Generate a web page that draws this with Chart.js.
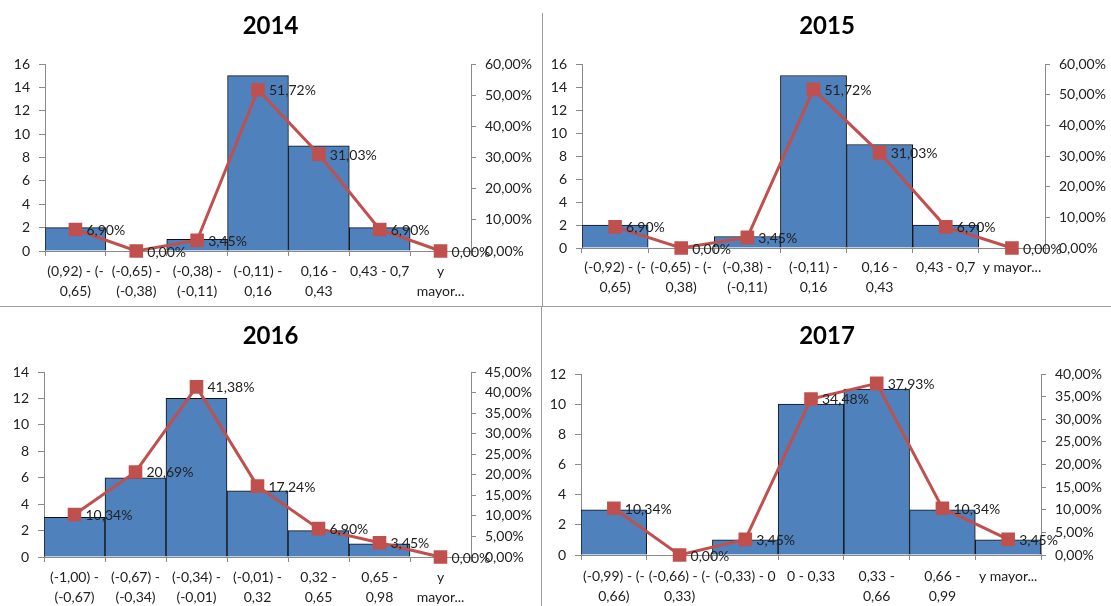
<!DOCTYPE html>
<html>
<head>
<meta charset="utf-8">
<title>Histogramas 2014-2017</title>
<script src="https://cdn.jsdelivr.net/npm/chart.js@4.4.1/dist/chart.umd.min.js"></script>
<style>
    html, body { margin: 0; padding: 0; background: #fff; }
    #wrap { position: relative; width: 1111px; height: 606px; overflow: hidden; }
    .panel { position: absolute; }
    .sep { position: absolute; background: #9c9c9c; }
</style>
</head>
<body>
<div id="wrap">
    <div class="panel" style="left:0;top:0"><canvas id="c2014" width="541" height="305"></canvas></div>
    <div class="panel" style="left:543px;top:0"><canvas id="c2015" width="568" height="305"></canvas></div>
    <div class="panel" style="left:0;top:307px"><canvas id="c2016" width="541" height="299"></canvas></div>
    <div class="panel" style="left:543px;top:307px"><canvas id="c2017" width="568" height="299"></canvas></div>

    <div class="sep" style="left:542px;top:13px;width:1px;height:293px"></div>
    <div class="sep" style="left:541px;top:306px;width:1px;height:300px"></div>
    <div class="sep" style="left:0;top:306px;width:1111px;height:1px"></div>
</div>

<script>
// ---------- data ----------
const bins2014 = [["(0,92) - (-", "0,65)"], ["(-0,65) -", "(-0,38)"], ["(-0,38) -", "(-0,11)"], ["(-0,11) -", "0,16"], ["0,16 -", "0,43"], "0,43 - 0,7", ["y", "mayor..."]];
const counts2014 = [2, 0, 1, 15, 9, 2, 0];
const pct2014 = [6.90, 0.00, 3.45, 51.72, 31.03, 6.90, 0.00];

const bins2015 = [["(-0,92) - (-", "0,65)"], ["(-0,65) - (-", "0,38)"], ["(-0,38) -", "(-0,11)"], ["(-0,11) -", "0,16"], ["0,16 -", "0,43"], "0,43 - 0,7", "y mayor..."];
const counts2015 = [2, 0, 1, 15, 9, 2, 0];
const pct2015 = [6.90, 0.00, 3.45, 51.72, 31.03, 6.90, 0.00];

const bins2016 = [["(-1,00) -", "(-0,67)"], ["(-0,67) -", "(-0,34)"], ["(-0,34) -", "(-0,01)"], ["(-0,01) -", "0,32"], ["0,32 -", "0,65"], ["0,65 -", "0,98"], ["y", "mayor..."]];
const counts2016 = [3, 6, 12, 5, 2, 1, 0];
const pct2016 = [10.34, 20.69, 41.38, 17.24, 6.90, 3.45, 0.00];

const bins2017 = [["(-0,99) - (-", "0,66)"], ["(-0,66) - (-", "0,33)"], "(-0,33) - 0", "0 - 0,33", ["0,33 -", "0,66"], ["0,66 -", "0,99"], "y mayor..."];
const counts2017 = [3, 0, 1, 10, 11, 3, 1];
const pct2017 = [10.34, 0.00, 3.45, 34.48, 37.93, 10.34, 3.45];

// axis ranges: [countMax, countStep, pctMax, pctStep]
const axes2014 = [16, 2, 60, 10];
const axes2015 = [16, 2, 60, 10];
const axes2016 = [14, 2, 45, 5];
const axes2017 = [12, 2, 40, 5];

const FONT = "Lato, 'Liberation Sans', sans-serif";
const AXIS_GREY = "#8a8a8a";
const TEXT = "#222";

const fmtPct = v => v.toFixed(2).replace(".", ",") + "%";

// percentage labels to the right of each marker
const pointLabels = {
    id: "pointLabels",
    afterDatasetsDraw(chart) {
        const meta = chart.getDatasetMeta(1);
        const ctx = chart.ctx;
        ctx.save();
        ctx.font = "14px " + FONT;
        ctx.fillStyle = TEXT;
        ctx.textAlign = "left";
        ctx.textBaseline = "middle";
        meta.data.forEach((pt, i) => {
            ctx.fillText(fmtPct(chart.data.datasets[1].data[i]), pt.x + 11, pt.y + 1);
        });
        ctx.restore();
    }
};

function makeChart(id, year, labels, counts, pct, axes, box) {
    const [cMax, cStep, pMax, pStep] = axes;
    return new Chart(document.getElementById(id), {
        type: "bar",
        data: {
            labels: labels,
            datasets: [{
                type: "bar",
                data: counts,
                backgroundColor: "#4F81BD",
                borderColor: "#111",
                borderWidth: 1,
                barPercentage: 1,
                categoryPercentage: 1,
                yAxisID: "y",
                order: 1
            }, {
                type: "line",
                data: pct,
                borderColor: "#C0504D",
                borderWidth: 3,
                pointStyle: "rect",
                pointRadius: 7.5,
                pointBackgroundColor: "#C0504D",
                pointBorderColor: "#C0504D",
                tension: 0,
                clip: false,
                yAxisID: "y1",
                order: 0
            }]
        },
        options: {
            responsive: false,
            animation: false,
            layout: { padding: 0 },
            plugins: {
                legend: { display: false },
                tooltip: { enabled: false },
                title: {
                    display: true,
                    text: year,
                    color: "#000",
                    font: { family: FONT, size: 24, weight: "bold" },
                    padding: { top: box.tTop, bottom: box.tBottom }
                }
            },
            scales: {
                x: {
                    grid: { offset: true, drawOnChartArea: false, tickLength: 5, color: AXIS_GREY },
                    border: { color: AXIS_GREY },
                    ticks: {
                        autoSkip: false, maxRotation: 0, minRotation: 0,
                        padding: box.xPad, color: TEXT,
                        font: { family: FONT, size: 14, lineHeight: 1.4 }
                    },
                    afterFit: s => { s.height = box.xH; }
                },
                y: {
                    position: "left",
                    min: 0, max: cMax,
                    grid: { drawOnChartArea: false, tickLength: 6, color: AXIS_GREY },
                    border: { color: AXIS_GREY },
                    ticks: { stepSize: cStep, padding: 9, color: TEXT, font: { family: FONT, size: 14 } },
                    afterFit: s => { s.width = box.left; }
                },
                y1: {
                    position: "right",
                    min: 0, max: pMax,
                    grid: { drawOnChartArea: false, tickLength: 5, color: AXIS_GREY },
                    border: { color: AXIS_GREY },
                    ticks: {
                        stepSize: pStep, padding: 9, color: TEXT,
                        font: { family: FONT, size: 14 },
                        callback: v => fmtPct(v)
                    },
                    afterFit: s => { s.width = box.right; }
                }
            }
        },
        plugins: [pointLabels]
    });
}

makeChart("c2014", "2014", bins2014, counts2014, pct2014, axes2014,
    { left: 45, right: 70, xH: 54, xPad: 6, tTop: 11.6, tBottom: 23.6 });
makeChart("c2015", "2015", bins2015, counts2015, pct2015, axes2015,
    { left: 39, right: 66, xH: 57, xPad: 5, tTop: 11.6, tBottom: 23.6 });
makeChart("c2016", "2016", bins2016, counts2016, pct2016, axes2016,
    { left: 44, right: 70, xH: 49, xPad: 6, tTop: 14.6, tBottom: 21.6 });
makeChart("c2017", "2017", bins2017, counts2017, pct2017, axes2017,
    { left: 38, right: 70, xH: 51, xPad: 7, tTop: 14.6, tBottom: 23.6 });
</script>
</body>
</html>
